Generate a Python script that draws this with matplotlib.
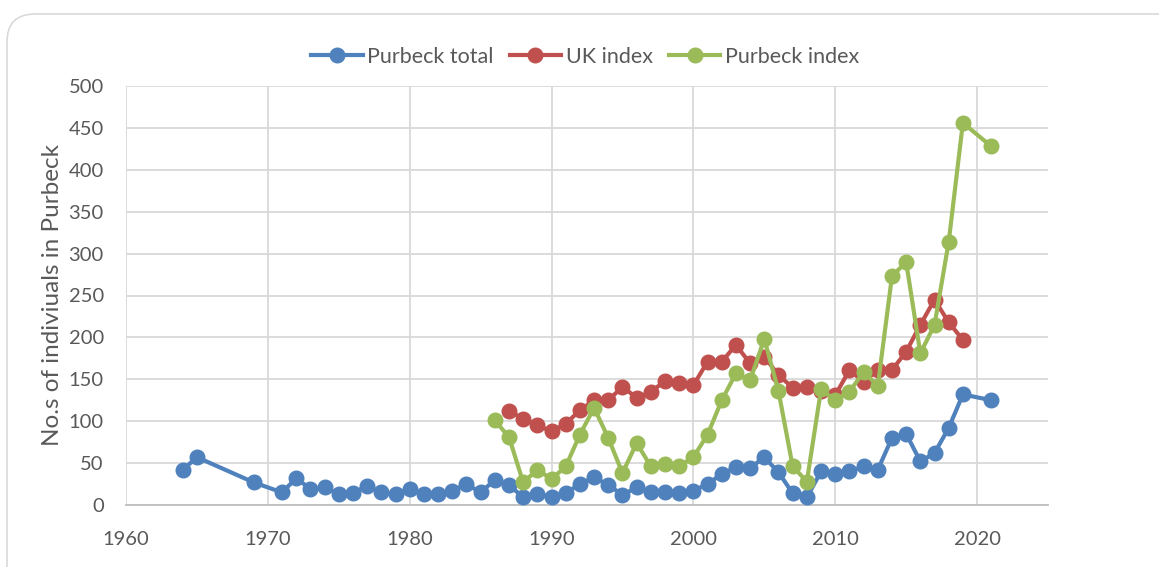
import matplotlib
matplotlib.use("Agg")
import matplotlib.pyplot as plt
from matplotlib.patches import FancyBboxPatch
from matplotlib.transforms import IdentityTransform

plt.rcParams['font.family'] = ['Lato', 'DejaVu Sans']

total_years = [1964, 1965, 1969, 1971, 1972, 1973, 1974, 1975, 1976, 1977, 1978, 1979,
               1980, 1981, 1982, 1983, 1984, 1985, 1986, 1987, 1988, 1989, 1990, 1991,
               1992, 1993, 1994, 1995, 1996, 1997, 1998, 1999, 2000, 2001, 2002, 2003,
               2004, 2005, 2006, 2007, 2008, 2009, 2010, 2011, 2012, 2013, 2014, 2015,
               2016, 2017, 2018, 2019, 2021]
purbeck_total = [42, 57, 27, 15, 32, 19, 21, 13, 14, 23, 15, 13,
                 19, 13, 13, 17, 25, 15, 30, 24, 9, 13, 10, 14,
                 25, 33, 24, 12, 21, 15, 15, 14, 17, 25, 37, 45,
                 44, 57, 39, 14, 9, 40, 37, 40, 46, 42, 80, 85,
                 52, 62, 92, 132, 125]

uk_years = list(range(1987, 2020))
uk_index = [112, 103, 95, 88, 97, 113, 125, 125, 141, 128, 135, 148, 145, 143,
            171, 171, 191, 169, 177, 155, 140, 141, 136, 131, 161, 147, 161, 161,
            183, 215, 245, 218, 197]

pi_years = list(range(1986, 2020)) + [2021]
purbeck_index = [101, 81, 27, 42, 31, 46, 84, 116, 80, 38, 74, 46, 49, 46, 57,
                 84, 125, 157, 149, 198, 136, 46, 28, 138, 125, 135, 159, 142,
                 273, 290, 181, 215, 314, 456, 428]

x_ticks = [1960, 1970, 1980, 1990, 2000, 2010, 2020]
y_ticks = [0, 50, 100, 150, 200, 250, 300, 350, 400, 450, 500]

W, H = 1159, 567
fig = plt.figure(figsize=(W / 100, H / 100), dpi=100)
ax = fig.add_axes([126 / W, 1 - 505 / H, (1048 - 126) / W, (505 - 86) / H])

border = FancyBboxPatch((7, -40), 1180, (H - 14) + 40,
                        boxstyle="round,pad=0,rounding_size=28",
                        transform=IdentityTransform(), facecolor='none',
                        edgecolor='#d9d9d9', linewidth=1.2, zorder=0)
fig.patches.append(border)

lw = 3.0
ms = 10.5
ax.plot(total_years, purbeck_total, color='#4F81BD', lw=lw, marker='o', ms=ms,
        label='Purbeck total', zorder=3)
ax.plot(uk_years, uk_index, color='#C0504D', lw=lw, marker='o', ms=ms,
        label='UK index', zorder=4)
ax.plot(pi_years, purbeck_index, color='#9BBB59', lw=lw, marker='o', ms=ms,
        label='Purbeck index', zorder=5)

ax.set_xlim(1960, 2025)
ax.set_ylim(0, 500)
ax.set_xticks(x_ticks)
ax.set_yticks(y_ticks)
ax.grid(True, color='#d9d9d9', linewidth=1.3, zorder=0)
ax.set_axisbelow(True)
for s in ['top', 'right', 'left']:
    ax.spines[s].set_visible(False)
ax.spines['bottom'].set_color('#bfbfbf')
ax.spines['bottom'].set_linewidth(1.3)
ax.tick_params(axis='both', length=0, labelsize=14.5, colors='#595959')
ax.tick_params(axis='y', pad=16)
ax.tick_params(axis='x', pad=19)
ax.set_ylabel('No.s of indiviuals in Purbeck', fontsize=17.5, color='#595959', labelpad=4)

leg = fig.legend(loc='center', bbox_to_anchor=(585 / W, 1 - 57 / H), ncol=3, frameon=False,
                 fontsize=15.5, handlelength=2.4, handletextpad=0.2, columnspacing=0.75,
                 labelcolor='#595959')

fig.savefig('out.png', dpi=100)
